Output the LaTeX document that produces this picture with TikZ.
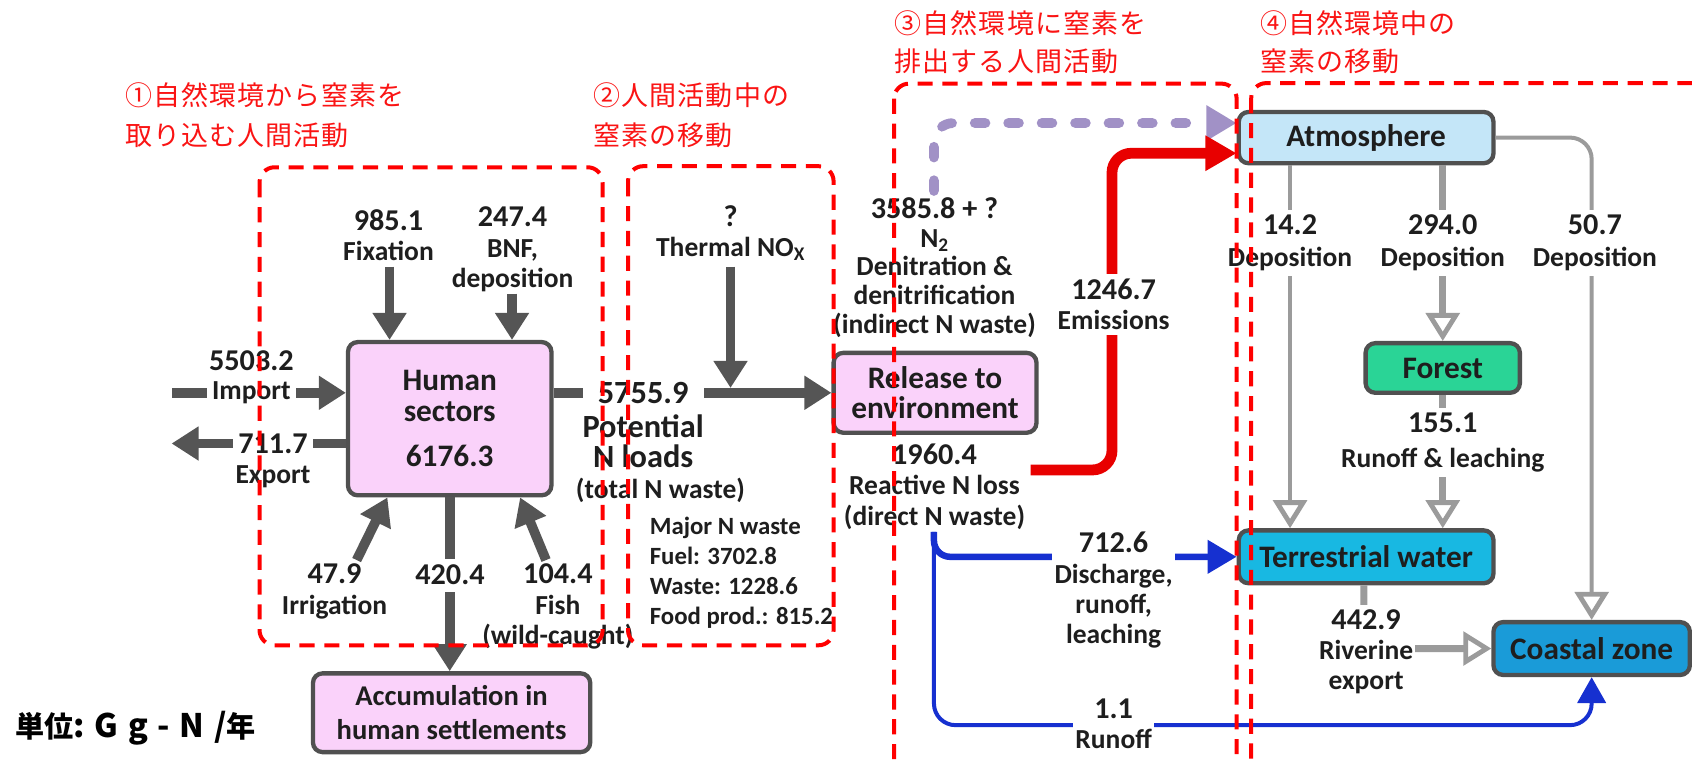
\documentclass[tikz,border=0pt]{standalone}
\usepackage{fontspec}
\setmainfont{Carlito}
\newfontfamily\jp{Noto Sans CJK JP}
\usetikzlibrary{arrows.meta}
\definecolor{txt}{RGB}{30,30,30}
\definecolor{pinkf}{RGB}{250,210,250}
\definecolor{bord}{RGB}{80,80,80}
\definecolor{darkg}{RGB}{85,85,85}
\definecolor{atmf}{RGB}{196,230,248}
\definecolor{forf}{RGB}{42,212,150}
\definecolor{terf}{RGB}{24,184,226}
\definecolor{coaf}{RGB}{26,155,216}
\definecolor{ngray}{RGB}{155,155,155}
\definecolor{rdash}{RGB}{255,0,0}
\definecolor{rarr}{RGB}{232,0,0}
\definecolor{barr}{RGB}{22,48,208}
\definecolor{parr}{RGB}{161,145,198}
\definecolor{jpred}{RGB}{250,20,20}
\newcommand\labf{\fontsize{25.5}{28}\selectfont\bfseries}
\newcommand\numb[1]{{\fontsize{28}{28}\selectfont #1}}
\tikzset{
  lab/.style={font=\labf, align=center, inner sep=1.5pt, text=txt},
  labw/.style={lab, fill=white, inner xsep=4.5pt, inner ysep=4.5pt},
  nbox/.style={draw=bord, line width=4pt, rounded corners=9pt, font=\fontsize{29}{28}\selectfont\bfseries, text=txt, align=center, inner sep=0pt},
  darr/.style={draw=darkg, line width=9pt, -{Triangle[length=25pt,width=30pt]}},
  gthin/.style={draw=ngray, line width=3.7pt, -{Triangle[open,length=26pt,width=31pt,line width=4.5pt]}},
  gthick/.style={gthin, line width=6.5pt},
  purp/.style={draw=parr, line width=9pt, line cap=round, dash pattern=on 10pt off 21pt, -{Triangle[length=28pt,width=31pt]}},
  redarr/.style={draw=rarr, line width=10pt, -{Triangle[length=29pt,width=31pt]}},
  bthick/.style={draw=barr, line width=6pt, -{Triangle[length=27pt,width=30pt]}},
  bthin/.style={draw=barr, line width=3.7pt, -{Triangle[length=24pt,width=26pt]}},
  rbox/.style={draw=rdash, line width=3.7pt, dash pattern=on 14pt off 9pt, rounded corners=14pt},
  jpt/.style={font=\jp\fontsize{25}{36}\selectfont\addfontfeatures{LetterSpace=4}, text=jpred, anchor=west, inner sep=0pt}
}
\begin{document}
\begin{tikzpicture}[x=1pt,y=-1pt]
\useasboundingbox (0,0) rectangle (1568,704);

% titles
\node[jpt] (t1a) at (115.8,88) {①自然環境から窒素を};
\node[jpt] (t1b) at (115.8,125) {取り込む人間活動};
\node[jpt] (t2a) at (550,88) {②人間活動中の};
\node[jpt] (t2b) at (550,125) {窒素の移動};
\node[jpt] (t3a) at (829,21.6) {③自然環境に窒素を};
\node[jpt] (t3b) at (829,57) {排出する人間活動};
\node[jpt] (t4a) at (1168,21.6) {④自然環境中の};
\node[jpt] (t4b) at (1168,57) {窒素の移動};
\node[anchor=west, inner sep=0pt, font=\jp\bfseries\fontsize{27}{30}\selectfont, text=black] (unit) at (14,675) {単位{\fontsize{30}{30}\selectfont\addfontfeatures{LetterSpace=30}:Gg-N/}年};

% boxes
\node[nbox, fill=pinkf, minimum width=188.5pt, minimum height=142pt] (human) at (416.75,388) {Human\\sectors\\[14pt]6176.3};
\node[nbox, fill=pinkf, minimum width=257pt, minimum height=73pt, font=\fontsize{26.5}{32}\selectfont\bfseries] (acc) at (418.5,660.5) {Accumulation in\\human settlements};
\node[nbox, fill=pinkf, minimum width=188pt, minimum height=74pt] (rel) at (866.5,364) {Release to\\environment};
\node[nbox, fill=atmf, minimum width=236pt, minimum height=47.5pt] (atm) at (1266,127.5) {Atmosphere};
\node[nbox, fill=forf, minimum width=143pt, minimum height=46pt] (forest) at (1337,341) {Forest};
\node[nbox, fill=terf, minimum width=236pt, minimum height=49pt] (terr) at (1266,516) {Terrestrial water};
\node[nbox, fill=coaf, minimum width=182pt, minimum height=49pt] (coast) at (1475,601) {Coastal zone};

% coordinates
\coordinate (fixs) at (361,247);
\coordinate (bnfs) at (474.5,272);
\coordinate (imps) at (159.5,364);
\coordinate (expe) at (159,411);
\coordinate (irrs) at (330.5,519);
\coordinate (fishs) at (506,519);
\coordinate (ths) at (677,247);
\coordinate (thj) at (677,364);
\coordinate (ps) at (865.5,177);
\coordinate (pt) at ([yshift=13.5pt]atm.west);
\coordinate (rs) at (955,435.5);
\coordinate (rv) at (1030.5,300);
\coordinate (rt) at ([yshift=-14.5pt]atm.west);
\coordinate (bs) at (865.5,493);
\coordinate (bb) at (865.5,672);
\coordinate (g1) at (1195.5,300);
\coordinate (g5) at (1264,560);

% human-activity arrows
\draw[darr] (fixs) -- (fixs |- human.north);
\draw[darr] (bnfs) -- (bnfs |- human.north);
\draw[darr] (imps) -- (imps -| human.west);
\draw[darr] (expe -| human.west) -- (expe);
\draw[darr] (irrs) -- ([xshift=38.5pt]human.south west);
\draw[darr] (fishs) -- ([xshift=-31pt]human.south east);
\draw[darr] (human.south) -- (human.south |- acc.north);
\draw[darr] ([yshift=24pt]human.east) -- (rel.west);
\draw[darr, shorten >=4.5pt] (ths) -- (thj);

% release arrows
\draw[purp, rounded corners=18pt] (ps) -- (ps |- pt) -- (pt);
\draw[redarr, rounded corners=18pt] (rs) -- (rs -| rv) -- (rv |- rt) -- (rt);
\draw[bthin, rounded corners=20pt] (bs) -- (bb) -| (coast.south);
\draw[bthick, rounded corners=15pt] (bs) -- (bs |- terr.west) -- (terr.west);

% natural flows
\draw[gthin] (g1 |- atm.south) -- (g1 |- terr.north);
\draw[gthick] (atm.south -| forest.north) -- (forest.north);
\draw[gthin, rounded corners=20pt] (atm.east) -| (coast.north);
\draw[gthick] (forest.south) -- (forest.south |- terr.north);
\draw[gthick, rounded corners=2pt] (g5 |- terr.south) -- (g5 |- coast.west) -- (coast.west);

% labels
\node[lab] (fixl) at (360,218) {\numb{985.1}\\Fixation};
\node[lab] (bnfl) at (475,231) {\numb{247.4}\\BNF,\\deposition};
\node[lab] (impn) at (233,334) {\numb{5503.2}};
\node[labw] (impl) at (233,364) {Import};
\node[labw] (expn) at (253,411) {\numb{711.7}};
\node[lab] (expl) at (253,442) {Export};
\node[lab] (irrl) at (310,548) {\numb{47.9}\\Irrigation};
\node[labw, inner ysep=6pt] (accn) at (417,533) {\numb{420.4}};
\node[lab] (fishl) at (517,562) {\numb{104.4}\\Fish\\(wild-caught)};
\node[labw, inner xsep=14pt] (potn) at (596,364) {{\fontsize{30}{28}\selectfont 5755.9}};
\node[lab, font=\fontsize{30}{28}\selectfont\bfseries] (potl) at (596,409) {Potential\\N loads};
\node[lab] (potw) at (612,454) {(total N waste)};
\node[lab] (thl) at (677,216) {\numb{?}\\Thermal NO\textsubscript{X}};
\node[lab, font=\fontsize{23}{27.8}\selectfont\bfseries, align=left, anchor=north west] (maj) at (600.5,477.5) {Major N waste\\Fuel: 3702.8\\Waste: 1228.6\\Food prod.: 815.2};
\node[lab, font=\fontsize{25.5}{26.6}\selectfont\bfseries] (denl) at (866,248) {\numb{3585.8 + ?}\\N\textsubscript{2}\\Denitration \&\\denitrification\\(indirect N waste)};
\node[lab] (reln) at (866,451) {\numb{1960.4}\\Reactive N loss\\(direct N waste)};
\node[labw] (emil) at (1032,282) {\numb{1246.7}\\Emissions};
\node[labw, inner xsep=2pt] (dchl) at (1032,547) {\numb{712.6}\\Discharge,\\runoff,\\leaching};
\node[labw, inner xsep=2pt] (rofl) at (1032,671) {\numb{1.1}\\Runoff};
\node[labw, font=\fontsize{25.5}{30}\selectfont\bfseries] (dep1) at (1195.5,225) {\numb{14.2}\\Deposition};
\node[labw, font=\fontsize{25.5}{30}\selectfont\bfseries] (dep2) at (1337,225) {\numb{294.0}\\Deposition};
\node[labw, font=\fontsize{25.5}{30}\selectfont\bfseries] (dep3) at (1478,225) {\numb{50.7}\\Deposition};
\node[labw, font=\fontsize{25.5}{32}\selectfont\bfseries] (runl) at (1337,410) {\numb{155.1}\\Runoff \& leaching};
\node[labw, inner xsep=2pt] (rivl) at (1266,604) {\numb{442.9}\\Riverine\\export};

% dashed red section frames
\draw[rbox] (240.5,155) rectangle (558.5,598);
\draw[rbox] (582,154) rectangle (772.5,598);
\draw[rbox] (828.5,77.5) rectangle (1146,760);
\draw[rbox] (1159.5,77) rectangle (1640,760);
\end{tikzpicture}
\end{document}
